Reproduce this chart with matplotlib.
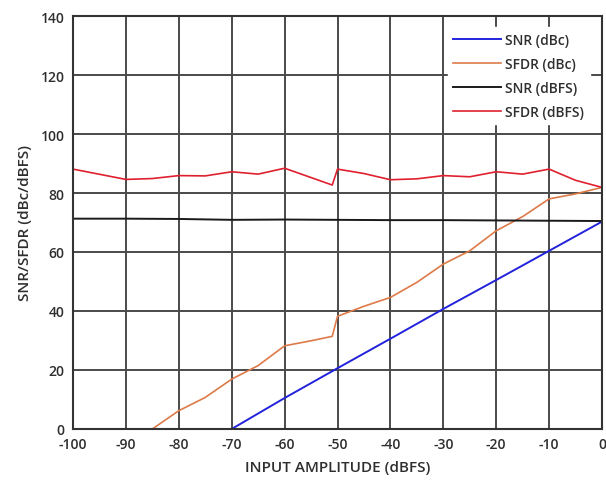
import matplotlib
matplotlib.use("Agg")
import matplotlib.pyplot as plt

plt.rcParams['font.family'] = ['Open Sans', 'DejaVu Sans']
plt.rcParams['axes.unicode_minus'] = False

# SNR (dBc)
snr_dbc_x = [-70, -60, -50, -40, -30, -20, -10, 0]
snr_dbc_y = [0, 10.5, 20.6, 30.6, 40.7, 50.5, 60.4, 70.3]

# SFDR (dBc)
sfdr_dbc_x = [-85, -80, -75, -70, -65, -60, -55, -51, -50, -45, -40, -35, -30, -25, -20, -15, -10, -5, 0]
sfdr_dbc_y = [0, 6.2, 10.7, 16.9, 21.5, 28.2, 29.9, 31.4, 38.2, 41.6, 44.6, 49.7, 55.9, 60.4, 67.2, 72.0, 78.0, 79.7, 81.9]

# SNR (dBFS)
snr_dbfs_x = [-100, -90, -80, -70, -60, -50, -40, -30, -20, -10, 0]
snr_dbfs_y = [71.3, 71.3, 71.2, 70.9, 71.0, 70.9, 70.8, 70.8, 70.7, 70.6, 70.5]

# SFDR (dBFS)
sfdr_dbfs_x = [-100, -90, -85, -80, -75, -70, -65, -60, -51, -50, -45, -40, -35, -30, -25, -20, -15, -10, -5, 0]
sfdr_dbfs_y = [88.1, 84.6, 84.9, 85.9, 85.8, 87.2, 86.4, 88.4, 82.7, 88.1, 86.6, 84.5, 84.8, 85.9, 85.5, 87.2, 86.4, 88.1, 84.3, 81.9]

x_ticks = [-100, -90, -80, -70, -60, -50, -40, -30, -20, -10, 0]
y_ticks = [0, 20, 40, 60, 80, 100, 120, 140]

text_color = '#2e2e2e'

fig = plt.figure(figsize=(6.06, 4.89), dpi=100)
ax = fig.add_axes([0.1205, 0.1207, 0.8729, 0.8445])

grid_color = '#4a4a4a'
ax.set_xlim(-100, 0)
ax.set_ylim(0, 140)
ax.set_xticks(x_ticks)
ax.set_yticks(y_ticks)
ax.grid(True, color=grid_color, linewidth=1.4)
ax.set_axisbelow(True)

ax.plot(snr_dbc_x, snr_dbc_y, color='#2222dd', linewidth=1.4, label='SNR (dBc)')
ax.plot(sfdr_dbc_x, sfdr_dbc_y, color='#dd7a48', linewidth=1.2, label='SFDR (dBc)')
ax.plot(snr_dbfs_x, snr_dbfs_y, color='#1a1a1a', linewidth=1.4, label='SNR (dBFS)')
ax.plot(sfdr_dbfs_x, sfdr_dbfs_y, color='#e0202e', linewidth=1.2, label='SFDR (dBFS)')

for s in ax.spines.values():
    s.set_color('#333333')
    s.set_linewidth(1.5)

ax.tick_params(axis='both', length=0, pad=6, labelsize=10, labelcolor=text_color)
for lbl in ax.get_xticklabels() + ax.get_yticklabels():
    lbl.set_fontweight('semibold')

ax.set_xlabel('INPUT AMPLITUDE (dBFS)', fontsize=11, color=text_color,
              fontweight='semibold', labelpad=6)
ax.set_ylabel('SNR/SFDR (dBc/dBFS)', fontsize=11, color=text_color,
              fontweight='semibold', labelpad=6)

leg = ax.legend(loc='upper right', bbox_to_anchor=(0.977, 0.973), frameon=True,
                prop={'size': 10, 'weight': 'semibold'}, handlelength=3.45,
                labelspacing=0.72, borderaxespad=0.0, handletextpad=0.3,
                fancybox=False)
leg.get_frame().set_facecolor('white')
leg.get_frame().set_edgecolor('white')
leg.get_frame().set_alpha(1.0)
for t in leg.get_texts():
    t.set_color(text_color)

fig.savefig('out.png', dpi=100)
